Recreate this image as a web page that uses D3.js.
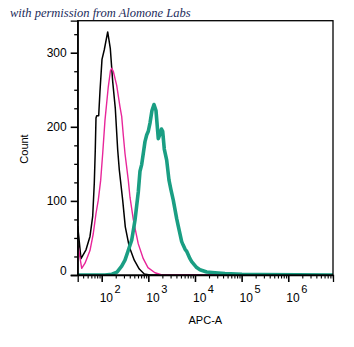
<!DOCTYPE html>
<html>
<head>
<meta charset="utf-8">
<script src="https://cdn.jsdelivr.net/npm/d3@7"></script>
<style>
  body { margin: 0; background: #fff; }
  svg { display: block; }
</style>
</head>
<body>
<script>
// values (APC-A fluorescence, event count)
var blackX = [30.6, 36, 46.1, 56.1, 64.1, 69.4, 72.9, 75.5, 78.1, 86.2, 91.9, 101.5, 113.7, 134.5, 152.9, 172.2, 195.7, 220.3, 238.4, 281.9, 320.6, 390.5, 499.7, 639.7, 818.8, 1085, 9.1e6];
var blackY = [66, 22, 34, 52, 79, 124, 169, 212, 215, 215, 248, 291, 304, 328, 306, 261, 225, 169, 142, 101, 65, 38, 20, 8, 1.4, 0, 0];

var pinkX = [31, 37.3, 43.9, 56.1, 66.1, 75.5, 84.5, 95.2, 105.1, 117.7, 138.5, 154.4, 163.8, 177.3, 209.7, 246.8, 268.4, 290.4, 315.9, 371.6, 404.3, 475.9, 543.8, 609, 779.3, 983, 1388, 1962, 9.1e6];
var pinkY = [40, 9, 16, 33, 56, 83, 101, 128, 164, 209, 254, 276, 279, 275, 256, 227, 214, 189, 164, 128, 105, 75, 57, 42, 22, 10, 3, 0, 0];

var tealX = [31, 117.7, 166.3, 212.8, 268.4, 315.9, 366.4, 439.7, 517.3, 609, 662.2, 720.1, 779.3, 847.6, 921.8, 997.5, 1085, 1197, 1322, 1459, 1634, 1777, 1914, 2030, 2198, 2474, 2772, 3059, 3426, 4052, 4385, 5187, 5613, 6105, 6637, 7813, 8500, 10880, 12800, 17820, 26840, 43950, 101700, 247400, 9.1e6];
var tealY = [0, 0, 1, 4, 12, 20, 32, 47, 74, 112, 140, 149, 164, 180, 189, 194, 205, 222, 230, 222, 184, 190, 197, 194, 170, 155, 128, 115, 101, 76, 66, 45, 40, 35, 32, 22, 18, 10, 7, 4, 3, 2, 1, 0.5, 0];

var yMajor = [0, 100, 200, 300];
var xMajor = [1e2, 1e3, 1e4, 1e5, 1e6];
var xExp = ["2", "3", "4", "5", "6"];

function main() {
  var width = 354, height = 347;
  var left = 77.7, right = 333, top = 20.7, bottom = 275;

  var svg = d3.select("body").append("svg")
    .attr("width", width)
    .attr("height", height)
    .style("font-family", "'Liberation Sans', Arial, sans-serif");

  var x = d3.scaleLog().domain([30.6, 9.1e6]).range([left, right]);
  var y = d3.scaleLinear().domain([0, 343.2]).range([bottom, top]);

  // credit line
  svg.append("text")
    .attr("x", 10).attr("y", 17)
    .attr("fill", "#1c2b5a")
    .style("font-family", "'Liberation Serif', 'DejaVu Serif', serif")
    .style("font-style", "italic")
    .style("font-size", "12.5px")
    .text("with permission from Alomone Labs");

  // curves
  svg.append("clipPath").attr("id", "clip")
    .append("rect").attr("x", left).attr("y", top)
    .attr("width", right - left).attr("height", bottom - top);

  var line = d3.line()
    .x(function (d) { return x(d[0]); })
    .y(function (d) { return y(d[1]); });

  var plot = svg.append("g").attr("clip-path", "url(#clip)");

  plot.append("path")
    .datum(d3.zip(blackX, blackY))
    .attr("d", line)
    .attr("fill", "none")
    .attr("stroke", "#000")
    .attr("stroke-width", 1.5)
    .attr("stroke-linejoin", "round");

  plot.append("path")
    .datum(d3.zip(pinkX, pinkY))
    .attr("d", line)
    .attr("fill", "none")
    .attr("stroke", "#e8269a")
    .attr("stroke-width", 1.4)
    .attr("stroke-linejoin", "round");

  plot.append("path")
    .datum(d3.zip(tealX, tealY))
    .attr("d", line)
    .attr("fill", "none")
    .attr("stroke", "#1a9e83")
    .attr("stroke-width", 3.6)
    .attr("stroke-linejoin", "round")
    .attr("stroke-linecap", "round");

  // frame
  svg.append("rect")
    .attr("x", left).attr("y", top)
    .attr("width", right - left).attr("height", bottom - top)
    .attr("fill", "none")
    .attr("stroke", "#000")
    .attr("stroke-width", 1.3);

  // y axis
  var yMinor = d3.range(0, 343, 25).filter(function (v) { return v % 100 != 0; });
  svg.append("g")
    .attr("transform", "translate(" + left + ",0)")
    .call(d3.axisLeft(y).tickValues(yMinor).tickSize(3.5).tickFormat(""))
    .call(function (g) { g.select(".domain").remove(); })
    .selectAll("line").attr("stroke-width", 1.3);

  var yAx = svg.append("g")
    .attr("transform", "translate(" + left + ",0)")
    .call(d3.axisLeft(y).tickValues(yMajor).tickSize(7).tickPadding(4));
  yAx.select(".domain").attr("stroke-width", 1.3);
  yAx.selectAll("line").attr("stroke-width", 1.6);
  yAx.selectAll("text")
    .style("font-size", "12px")
    .style("font-family", "'Liberation Sans', Arial, sans-serif")
    .attr("fill", "#000")
    .attr("dy", function (d) { return d == 0 ? "-0.05em" : "0.32em"; });

  // x axis
  var xMinor = [];
  [1e1, 1e2, 1e3, 1e4, 1e5, 1e6].forEach(function (dec) {
    for (var k = 2; k <= 9; k++) {
      var v = k * dec;
      if (v >= 30.6 && v <= 9.1e6) xMinor.push(v);
    }
  });
  svg.append("g")
    .attr("transform", "translate(0," + bottom + ")")
    .call(d3.axisBottom(x).tickValues(xMinor).tickSize(3.5).tickFormat(""))
    .call(function (g) { g.select(".domain").remove(); })
    .selectAll("line").attr("stroke-width", 1.1);

  var xAx = svg.append("g")
    .attr("transform", "translate(0," + bottom + ")")
    .call(d3.axisBottom(x).tickValues(xMajor).tickSize(7).tickFormat(""));
  xAx.select(".domain").attr("stroke-width", 1.3);
  xAx.selectAll("line").attr("stroke-width", 1.6);

  var lab = svg.append("g").selectAll("text")
    .data(xMajor)
    .enter().append("text")
    .attr("x", function (d) { return x(d) - 2; })
    .attr("y", 302)
    .attr("fill", "#000")
    .style("font-size", "12px");
  lab.append("tspan").text("10");
  lab.append("tspan")
    .attr("dx", 1.5)
    .attr("dy", -9)
    .style("font-size", "11px")
    .text(function (d, i) { return xExp[i]; });

  // axis titles
  svg.append("text")
    .attr("x", (left + right) / 2 + 0).attr("y", 324)
    .attr("text-anchor", "middle")
    .style("font-size", "11px")
    .text("APC-A");

  svg.append("text")
    .attr("transform", "translate(28,149) rotate(-90)")
    .attr("text-anchor", "middle")
    .style("font-size", "11px")
    .text("Count");
}

main();
</script>
</body>
</html>
